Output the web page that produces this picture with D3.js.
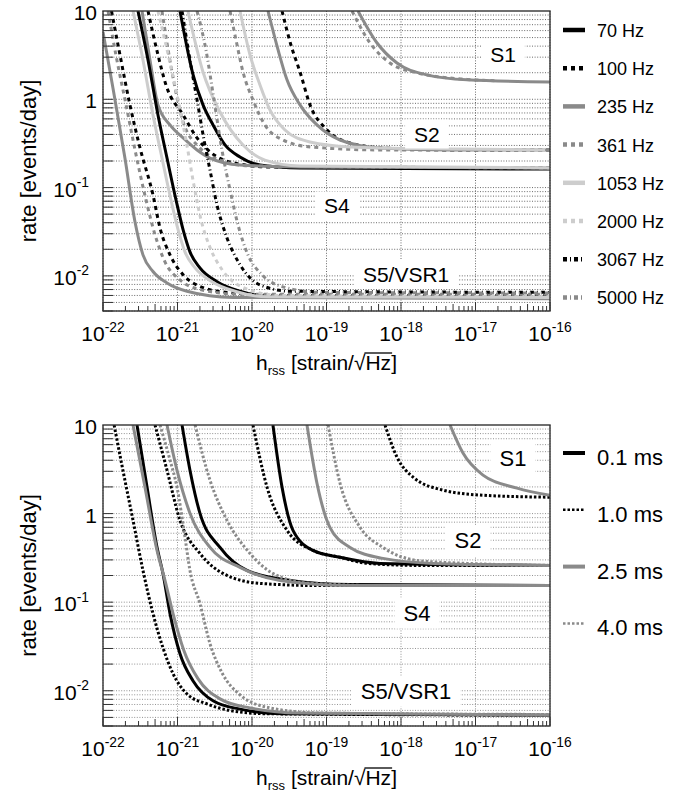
<!DOCTYPE html>
<html lang="en">
<head>
  <meta charset="UTF-8" />
  <title>Rate limits vs hrss</title>
  <script src="https://d3js.org/d3.v7.min.js"></script>
  <style>
    html, body { margin: 0; background: #fff; }
    svg { display: block; font-family: "Liberation Sans", Arial, Helvetica, sans-serif; }
    .grid line { stroke-width: 0.8; stroke-dasharray: 1,1.6; }
    #top .grid line { stroke: #444; }
    #bot .grid line { stroke: #777; }
    .tick-in { stroke: #333; stroke-width: 1; }
    .frame { fill: none; stroke: #333; stroke-width: 1.4; }
  </style>
</head>
<body>
  <svg id="chart" width="689" height="804"></svg>
  <script>
    // ---- data ----
    const freqLabels = ["70 Hz", "100 Hz", "235 Hz", "361 Hz", "1053 Hz", "2000 Hz", "3067 Hz", "5000 Hz"];
    const durLabels = ["0.1 ms", "1.0 ms", "2.5 ms", "4.0 ms"];
    const runNames = ["S1", "S2", "S4", "S5/VSR1"];
    const xTickExps = [-22, -21, -20, -19, -18, -17, -16];
    const yTickExps = [1, 0, -1, -2];

    // top panel (sine-Gaussians), one entry per frequency, [hrss, rate]
    const topS1 = [null, null,
      [[2.65e-19,10],[4.77e-19,4.34],[8.83e-19,2.58],[2.23e-18,1.89],[7.69e-18,1.66],[1e-16,1.57]],
      [[2.2e-19,10],[3.84e-19,4.34],[7.11e-19,2.58],[1.64e-18,1.99],[7.69e-18,1.68],[2e-17,1.62]],
      null, null, null, null];
    const topS2 = [null,
      [[2.53e-20,10],[3.33e-20,4.12],[4.41e-20,2.04],[6.01e-20,0.864],[1.02e-19,0.449],[2.07e-19,0.32],[5.73e-19,0.281],[4.55e-18,0.267],[1e-16,0.267]],
      [[1.64e-20,10],[2.24e-20,3.62],[2.95e-20,1.66],[4.41e-20,0.864],[7.45e-20,0.512],[1.52e-19,0.346],[5.23e-19,0.281],[4.55e-18,0.267],[1e-16,0.267]],
      [[5.07e-21,10],[6.1e-21,4.7],[7.57e-21,2.04],[1.03e-20,0.984],[1.49e-20,0.512],[2.61e-20,0.346],[6.01e-20,0.289],[5.23e-19,0.267],[1e-16,0.267]],
      [[6.9e-21,10],[9.4e-21,3.18],[1.28e-20,1.45],[1.74e-20,0.758],[2.77e-20,0.449],[6.01e-20,0.328],[2.07e-19,0.289],[4.55e-18,0.274],[8.6e-17,0.267]],
      null, null, null];
    const topS4 = [
      [[1.08e-21,10],[1.62e-21,1.89],[2.2e-21,0.864],[3.0e-21,0.512],[4.34e-21,0.304],[6.9e-21,0.222],[1.28e-20,0.18],[4.41e-20,0.167],[1e-16,0.162]],
      [[4.02e-22,10],[5.47e-22,3.18],[7.01e-22,1.45],[1.19e-21,0.665],[1.83e-21,0.365],[2.73e-21,0.254],[5.07e-21,0.195],[1.74e-20,0.171],[1e-16,0.167]],
      [[3.34e-22,10],[4.27e-22,2.79],[5.47e-22,0.864],[7.93e-22,0.512],[1.19e-21,0.365],[1.83e-21,0.267],[2.73e-21,0.216],[6.9e-21,0.18],[4.41e-20,0.171],[1e-16,0.167]],
      [[6.19e-22,10],[8.44e-22,2.04],[1.19e-21,0.555],[2.0e-21,0.281],[3.72e-21,0.205],[9.4e-21,0.176],[1e-16,0.167]],
      [[1.38e-21,10],[2.2e-21,2.04],[3.72e-21,0.718],[7.57e-21,0.304],[1.49e-20,0.205],[4.41e-20,0.176],[1e-16,0.167]],
      null, null, null];
    const topS5 = [
      [[2.95e-22,10],[4.02e-22,2.79],[5.47e-22,0.665],[7.23e-22,0.216],[9.55e-22,0.0724],[1.19e-21,0.0332],[1.47e-21,0.0187],[2.0e-21,0.0123],[3.39e-21,0.0086],[6.9e-21,0.0067],[1.91e-20,0.0058],[1e-16,0.0057]],
      [[1.3e-22,10],[1.69e-22,3.18],[2.3e-22,0.864],[3.14e-22,0.281],[4.69e-22,0.0825],[5.82e-22,0.035],[7.93e-22,0.0173],[1.19e-21,0.0103],[2.0e-21,0.0076],[4.62e-21,0.0065],[3.24e-20,0.006],[1e-16,0.006]],
      [[1e-22,5.78],[1.36e-22,1.34],[1.97e-22,0.216],[2.69e-22,0.0408],[3.44e-22,0.0173],[4.69e-22,0.0112],[7.23e-22,0.0083],[1.34e-21,0.0067],[5.56e-21,0.0057],[1e-16,0.0055]],
      [[1.17e-22,10],[1.49e-22,3.18],[2.04e-22,0.864],[2.69e-22,0.267],[3.78e-22,0.0724],[4.99e-22,0.0292],[6.79e-22,0.0144],[1.08e-21,0.009],[2.0e-21,0.007],[6.9e-21,0.0062],[1e-16,0.0062]],
      [[2.53e-22,10],[3.44e-22,2.79],[4.69e-22,0.665],[6.19e-22,0.216],[8.18e-22,0.0724],[1.02e-21,0.0332],[1.26e-21,0.0187],[1.72e-21,0.0123],[2.9e-21,0.0086],[5.91e-21,0.0067],[1.64e-20,0.0058],[1e-16,0.0057]],
      [[5.47e-22,10],[7.01e-22,4.12],[9.55e-22,1.27],[1.3e-21,0.346],[1.66e-21,0.107],[2.07e-21,0.0431],[2.73e-21,0.021],[3.95e-21,0.0118],[7.57e-21,0.0074],[2.38e-20,0.006],[1e-16,0.0058]],
      [[1.15e-21,10],[1.47e-21,2.79],[1.83e-21,0.984],[2.27e-21,0.346],[2.73e-21,0.158],[3.39e-21,0.0636],[4.62e-21,0.0269],[6.9e-21,0.0134],[1.28e-20,0.0079],[3.24e-20,0.0067],[1e-16,0.0065]],
      [[1.83e-21,10],[2.41e-21,3.62],[3.09e-21,0.984],[3.95e-21,0.267],[5.07e-21,0.094],[6.49e-21,0.0378],[8.83e-21,0.0173],[1.36e-20,0.0103],[2.77e-20,0.0074],[8.18e-20,0.0065],[1e-16,0.0064]]];

    // bottom panel (Gaussians), one entry per duration
    const botS1 = [null,
      [[6.1e-19,10],[8.83e-19,4.34],[1.45e-18,2.58],[3.66e-18,1.84],[1.26e-17,1.61],[1e-16,1.53]],
      [[4.55e-18,10],[6.79e-18,4.82],[1.26e-17,2.72],[3.61e-17,1.94],[1e-16,1.61]],
      null];
    const botS2 = [
      [[1.91e-20,10],[2.53e-20,1.99],[3.55e-20,0.647],[6.59e-20,0.384],[1.52e-19,0.321],[5.23e-19,0.274],[1e-16,0.26]],
      [[1.03e-20,10],[1.59e-20,1.99],[2.95e-20,0.647],[6.59e-20,0.384],[1.52e-19,0.321],[3.5e-19,0.274],[1.64e-18,0.26],[1e-16,0.26]],
      [[5.47e-20,10],[7.45e-20,2.2],[1.11e-19,0.7],[2.07e-19,0.415],[5.73e-19,0.312],[2.69e-18,0.274],[1e-16,0.26]],
      [[1.05e-19,10],[1.52e-19,2.2],[2.82e-19,0.7],[5.73e-19,0.415],[1.64e-18,0.296],[7.69e-18,0.274],[1e-16,0.26]]];
    const botS4 = [
      [[1.15e-21,10],[1.47e-21,3.09],[2.0e-21,1.01],[3.72e-21,0.415],[8.57e-21,0.228],[3.24e-20,0.176],[2.07e-19,0.158],[1e-16,0.154]],
      [[4.99e-22,10],[7.23e-22,3.09],[1.08e-21,0.839],[2.0e-21,0.355],[4.08e-21,0.211],[1.28e-20,0.163],[8.18e-20,0.154],[1e-16,0.154]],
      [[7.23e-22,10],[9.84e-22,3.09],[1.47e-21,1.01],[2.73e-21,0.415],[6.9e-21,0.247],[2.38e-20,0.176],[2.07e-19,0.154],[1e-16,0.154]],
      [[1.72e-21,10],[2.73e-21,2.38],[4.62e-21,0.839],[9.4e-21,0.355],[1.91e-20,0.211],[6.01e-20,0.163],[5.23e-19,0.154],[1e-16,0.154]]];
    const botS5 = [
      [[2.86e-22,10],[3.9e-22,1.99],[5.31e-22,0.415],[6.38e-22,0.211],[7.93e-22,0.0743],[1.08e-21,0.0262],[1.62e-21,0.0129],[3.0e-21,0.0077],[6.9e-21,0.0062],[2.61e-20,0.0055],[1e-16,0.0053]],
      [[1.41e-22,10],[1.85e-22,3.09],[2.53e-22,0.839],[3.44e-22,0.228],[4.69e-22,0.0743],[6.38e-22,0.0306],[8.71e-22,0.0156],[1.34e-21,0.0092],[2.49e-21,0.0071],[5.56e-21,0.0059],[1.59e-20,0.0055],[1e-16,0.0053]],
      [[2.53e-22,10],[3.66e-22,1.99],[5.31e-22,0.384],[6.79e-22,0.176],[8.71e-22,0.0743],[1.22e-21,0.0283],[1.88e-21,0.0137],[3.72e-21,0.0081],[9.4e-21,0.0064],[4.41e-20,0.0056],[1e-16,0.0053]],
      [[5.82e-22,10],[7.93e-22,4.02],[9.84e-22,1.99],[1.26e-21,0.54],[1.47e-21,0.228],[2.0e-21,0.0964],[2.73e-21,0.034],[3.95e-21,0.016],[6.9e-21,0.009],[1.74e-20,0.0064],[8.18e-20,0.0056],[1e-16,0.0054]]];

    // where the run names sit, [hrss, rate]
    const topRunAt = [[2.34e-17, 3.26], [2.23e-18, 0.405], [1.38e-19, 0.062], [1.17e-18, 0.0105]];
    const botRunAt = [[3.18e-17, 4.23], [7.93e-18, 0.499], [1.64e-18, 0.0762], [1.17e-18, 0.00998]];

    // ---- styles ----
    const GRAY = "#8a8a8a", LIGHT = "#cdcdcd";
    const freqStyles = [
      {color: "#000", dash: null},
      {color: "#000", dash: "4,4"},
      {color: GRAY, dash: null},
      {color: GRAY, dash: "4,4"},
      {color: LIGHT, dash: null},
      {color: LIGHT, dash: "4,4"},
      {color: "#000", dash: "4,3,1,3"},
      {color: GRAY, dash: "4,3,1,3"}
    ];
    const durStyles = [
      {color: "#000", dash: null},
      {color: "#000", dash: "2.5,2"},
      {color: GRAY, dash: null},
      {color: GRAY, dash: "2.5,2"}
    ];

    const svg = d3.select("#chart");
    const x = d3.scaleLog().domain([1e-22, 1e-16]).range([103, 550]);

    const panels = [
      {id: "top", top: 11, height: 300, runs: [topS1, topS2, topS4, topS5], runAt: topRunAt,
       labels: freqLabels, styles: freqStyles, legY0: 30, legStep: 38.2, legFont: 18, runFont: 21,
       legWidth: 4.5, lineWidth: 3},
      {id: "bot", top: 425, height: 301, runs: [botS1, botS2, botS4, botS5], runAt: botRunAt,
       labels: durLabels, styles: durStyles, legY0: 453, legStep: 56.8, legFont: 22, runFont: 22,
       legWidth: 4, lineWidth: 3}
    ];

    function powText(sel, e, fs) {
      if (e === 0) { sel.text("1"); return; }
      if (e === 1) { sel.text("10"); return; }
      sel.append("tspan").text("10");
      sel.append("tspan").attr("dy", -0.45 * fs).attr("font-size", fs * 0.66).text(e);
    }

    panels.forEach(p => {
      const y = d3.scaleLog().domain([0.004, 10]).range([p.top + p.height, p.top]);
      const g = svg.append("g").attr("id", p.id);

      g.append("clipPath").attr("id", "clip-" + p.id)
        .append("rect")
        .attr("x", x.range()[0]).attr("y", p.top)
        .attr("width", x.range()[1] - x.range()[0]).attr("height", p.height);

      // minor values for grid and ticks
      const yMinor = [];
      for (let e = -3; e <= 0; e++) for (let k = 1; k <= 9; k++) {
        const v = k * Math.pow(10, e);
        if (v >= 0.004 && v <= 10) yMinor.push(v);
      }
      const xMinor = [];
      for (let e = -22; e < -16; e++) for (let k = 2; k <= 9; k++) xMinor.push({v: k * Math.pow(10, e), k: k});
      const xDec = xTickExps.map(e => Math.pow(10, e));

      const grid = g.append("g").attr("class", "grid");
      grid.selectAll(".h").data(yMinor).enter().append("line")
        .attr("x1", x.range()[0]).attr("x2", x.range()[1])
        .attr("y1", d => y(d)).attr("y2", d => y(d));
      grid.selectAll(".v").data(xDec).enter().append("line")
        .attr("x1", d => x(d)).attr("x2", d => x(d))
        .attr("y1", p.top).attr("y2", p.top + p.height);

      // run names with white boxes
      const runG = g.append("g");
      const runTexts = runG.selectAll("text").data(runNames).enter().append("text")
        .attr("x", (d, i) => x(p.runAt[i][0]))
        .attr("y", (d, i) => y(p.runAt[i][1]))
        .attr("dy", "0.36em")
        .attr("text-anchor", "middle")
        .attr("font-size", p.runFont)
        .text(d => d);
      runTexts.each(function() {
        const b = this.getBBox();
        runG.insert("rect", "text")
          .attr("x", b.x - 9).attr("y", b.y - 3)
          .attr("width", b.width + 18).attr("height", b.height + 6)
          .attr("fill", "#fff");
      });

      // curves
      const line = d3.line().x(d => x(d[0])).y(d => y(d[1])).curve(d3.curveMonotoneX);
      const curves = g.append("g").attr("clip-path", `url(#clip-${p.id})`);
      p.runs.forEach(run => {
        run.forEach((pts, i) => {
          if (!pts) return;
          const st = p.styles[i];
          curves.append("path")
            .attr("d", line(pts))
            .attr("fill", "none")
            .attr("stroke", st.color)
            .attr("stroke-width", p.lineWidth)
            .attr("stroke-dasharray", st.dash);
        });
      });
      runG.raise();

      // frame and inner ticks
      g.append("rect").attr("class", "frame")
        .attr("x", x.range()[0]).attr("y", p.top)
        .attr("width", x.range()[1] - x.range()[0]).attr("height", p.height);
      g.selectAll(".yt").data(yMinor).enter().append("line").attr("class", "tick-in")
        .attr("x1", x.range()[0]).attr("x2", x.range()[0] + 10)
        .attr("y1", d => y(d)).attr("y2", d => y(d));
      g.selectAll(".xt").data(xMinor).enter().append("line").attr("class", "tick-in")
        .attr("x1", d => x(d.v)).attr("x2", d => x(d.v))
        .attr("y1", p.top + p.height)
        .attr("y2", d => p.top + p.height - (d.k === 5 ? 7 : 5));
      g.selectAll(".xd").data(xDec).enter().append("line").attr("class", "tick-in")
        .attr("x1", d => x(d)).attr("x2", d => x(d))
        .attr("y1", p.top + p.height).attr("y2", p.top + p.height - 9);

      // tick labels
      xTickExps.forEach(e => {
        const t = g.append("text")
          .attr("x", x(Math.pow(10, e)))
          .attr("y", p.top + p.height + 30)
          .attr("text-anchor", "middle")
          .attr("font-size", 21);
        powText(t, e, 21);
      });
      yTickExps.forEach(e => {
        const t = g.append("text")
          .attr("x", e < 0 ? 89 : 97)
          .attr("y", y(Math.pow(10, e)) + 9)
          .attr("text-anchor", "end")
          .attr("font-size", 21);
        powText(t, e, 21);
      });

      // axis titles
      g.append("text")
        .attr("transform", `translate(36,${p.top + p.height / 2}) rotate(-90)`)
        .attr("text-anchor", "middle")
        .attr("font-size", 22)
        .text("rate [events/day]");
      const titleY = p.top + p.height + 59;
      const xt = g.append("text")
        .attr("x", (x.range()[0] + x.range()[1]) / 2)
        .attr("y", titleY)
        .attr("text-anchor", "middle")
        .attr("font-size", 21);
      xt.append("tspan").text("h");
      xt.append("tspan").attr("font-size", 13).attr("dy", 5).text("rss");
      xt.append("tspan").attr("dy", -5).text(" [strain/\u221A");
      xt.append("tspan").text("Hz");
      xt.append("tspan").text("]");
      // bar over Hz, joined to the root sign
      const tn = xt.node();
      const barX0 = tn.getEndPositionOfChar(13).x - 1;
      const barX1 = tn.getEndPositionOfChar(15).x + 1;
      g.append("line")
        .attr("x1", barX0).attr("x2", barX1)
        .attr("y1", titleY - 17).attr("y2", titleY - 17)
        .attr("stroke", "#000").attr("stroke-width", 1.3);

      // legend
      const leg = g.append("g");
      p.labels.forEach((lab, i) => {
        const ly = p.legY0 + i * p.legStep;
        const st = p.styles[i];
        leg.append("line")
          .attr("x1", 563).attr("x2", 585)
          .attr("y1", ly).attr("y2", ly)
          .attr("stroke", st.color)
          .attr("stroke-width", st.dash && p.id === "bot" ? 2.5 : p.legWidth)
          .attr("stroke-dasharray", st.dash);
        leg.append("text")
          .attr("x", 597)
          .attr("y", ly + (p.id === "bot" ? 12 : 7))
          .attr("font-size", p.legFont)
          .text(lab);
      });
    });
  </script>
</body>
</html>
